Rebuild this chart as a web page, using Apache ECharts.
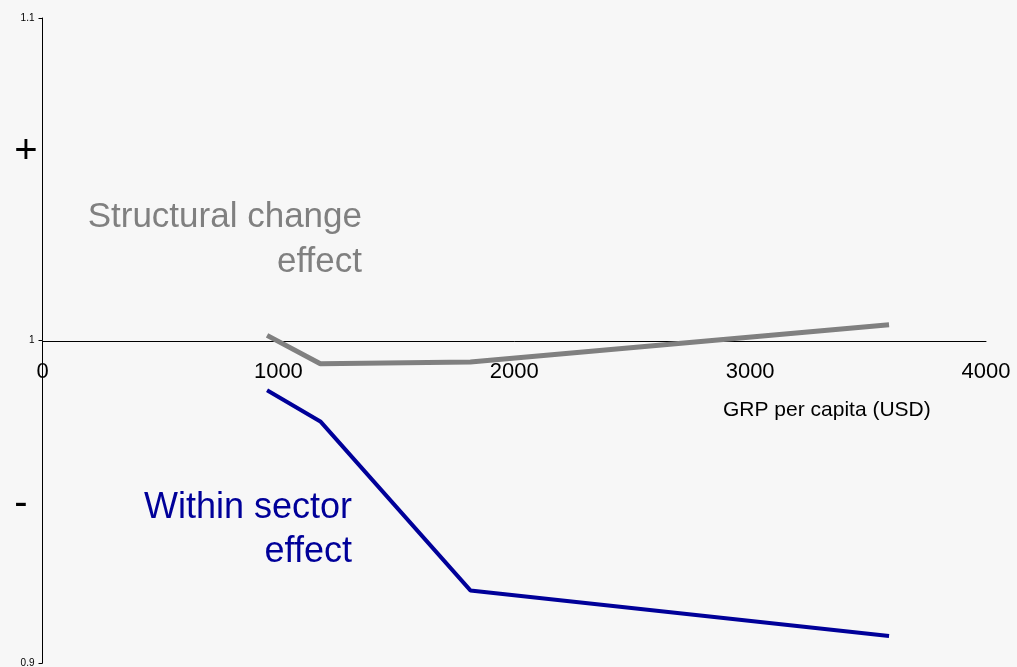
<!DOCTYPE html>
<html>
<head>
<meta charset="utf-8">
<script src="https://cdn.jsdelivr.net/npm/echarts@6/dist/echarts.min.js"></script>
<style>
html,body{margin:0;padding:0;background:#f7f7f7;}
#chart{width:1017px;height:667px;}
</style>
</head>
<body>
<div id="chart"></div>
<script>
// GRP per capita (USD) for each observation
const grpPerCapita = [952, 1178, 1814, 3589];
// Structural change effect (index, 1 = neutral)
const structuralChange = [1.0016, 0.9928, 0.9933, 1.0049];
// Within sector effect (index, 1 = neutral)
const withinSector = [0.9846, 0.9749, 0.9225, 0.9084];
// axis settings
const xTickInterval = 1000;
const xMax = 4000;
const yMin = 0.9;
const yMax = 1.1;
const yTickInterval = 0.1;

const chart = echarts.init(document.getElementById('chart'));

function pts(arr) {
  return arr.map((v, i) => [grpPerCapita[i], v]);
}
const font = '"Liberation Sans", Arial, sans-serif';

chart.setOption({
  backgroundColor: '#f7f7f7',
  animation: false,
  grid: [
    { left: 42.5, right: 31, top: 18, bottom: 4, containLabel: false, outerBoundsMode: 'none' },
    { left: 42.5, right: 31, top: 18, bottom: 326, containLabel: false, outerBoundsMode: 'none' }
  ],
  xAxis: [
    {
      gridIndex: 0, type: 'value', min: 0, max: xMax, interval: xTickInterval,
      axisLine: { show: false }, axisTick: { show: false }, axisLabel: { show: false },
      splitLine: { show: false }
    },
    {
      gridIndex: 1, type: 'value', min: 0, max: xMax, interval: xTickInterval, position: 'bottom',
      axisLine: { show: true, onZero: false, lineStyle: { color: '#000', width: 1 } },
      axisTick: { show: false },
      axisLabel: { fontFamily: font, fontSize: 22, color: '#000', margin: 20, formatter: v => String(v) },
      splitLine: { show: false }
    }
  ],
  yAxis: [
    {
      gridIndex: 0, type: 'value', min: yMin, max: yMax, interval: yTickInterval,
      axisLine: { show: true, onZero: false, lineStyle: { color: '#000', width: 1 } },
      axisTick: { show: true, length: 4, lineStyle: { color: '#000' } },
      axisLabel: {
        fontFamily: font, fontSize: 10, color: '#000', margin: 8,
        formatter: v => String(Math.round(v * 10) / 10)
      },
      splitLine: { show: false }
    },
    {
      gridIndex: 1, type: 'value', min: 0, max: 1, show: false
    }
  ],
  series: [
    {
      name: 'Within sector effect',
      type: 'line',
      xAxisIndex: 0, yAxisIndex: 0,
      data: pts(withinSector),
      showSymbol: false,
      lineStyle: { color: '#000099', width: 4 },
      itemStyle: { color: '#000099' }
    },
    {
      name: 'Structural change effect',
      type: 'line',
      xAxisIndex: 0, yAxisIndex: 0,
      data: pts(structuralChange),
      showSymbol: false,
      lineStyle: { color: '#808080', width: 5 },
      itemStyle: { color: '#808080' }
    }
  ],
  graphic: [
    { type: 'text', left: 723, top: 400, style: { text: 'GRP per capita (USD)', font: '21px ' + font, fill: '#000' } },
    { type: 'text', x: 26, y: 152, style: { text: '+', font: '40px ' + font, fill: '#000', align: 'center', verticalAlign: 'middle' } },
    { type: 'text', x: 21, y: 504, style: { text: '-', font: '40px ' + font, fill: '#000', align: 'center', verticalAlign: 'middle' } },
    { type: 'text', x: 362, y: 240, style: { text: 'Structural change\neffect', font: '35px ' + font, fill: '#808080', align: 'right', verticalAlign: 'middle', lineHeight: 45 } },
    { type: 'text', x: 352, y: 530, style: { text: 'Within sector\neffect', font: '36px ' + font, fill: '#000099', align: 'right', verticalAlign: 'middle', lineHeight: 44 } }
  ]
});
</script>
</body>
</html>
